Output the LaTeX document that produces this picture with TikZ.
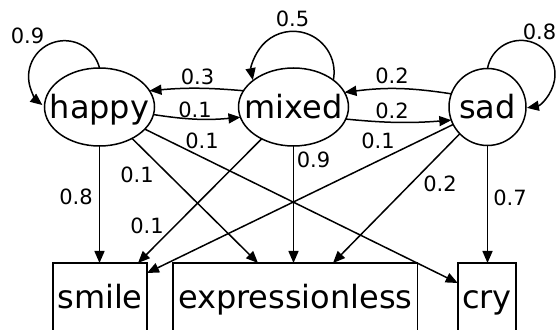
\documentclass[tikz,border=0pt]{standalone}
\usepackage{fontspec}
\setmainfont{DejaVu Sans}
\usetikzlibrary{arrows.meta,shapes.geometric}
\begin{document}
\begin{tikzpicture}[x=1pt,y=1pt,
  every node/.style={inner sep=0pt, outer sep=0pt},
  state/.style={draw, line width=1.5pt, ellipse, minimum width=110pt, minimum height=78pt,
    font=\fontsize{32}{38}\selectfont, text height=24pt, text depth=1.4pt},
  circstate/.style={draw, line width=1.5pt, circle, minimum size=77pt,
    font=\fontsize{32}{38}\selectfont, text height=24pt, text depth=1.4pt},
  obs/.style={draw, line width=1.5pt, rectangle, minimum height=80pt,
    font=\fontsize{32}{38}\selectfont, text height=10pt, text depth=0pt},
  lbl/.style={font=\fontsize{21}{25}\selectfont},
  arr/.style={line width=1.5pt, -{Triangle[length=12pt,width=10pt]}}]
\useasboundingbox (0,0) rectangle (556,329);
\clip (0,0) rectangle (556,329);
% states
\node[state] (happy) at (99.5,222) {\makebox[0pt]{happy}};
\node[state] (mixed) at (293.5,222) {\makebox[0pt]{mixed}};
\node[circstate] (sad) at (487.5,222) {\makebox[0pt]{sad}};
% observations
\node[obs, minimum width=94pt] (smile) at (100,26) {\makebox[0pt]{smile}};
\node[obs, minimum width=244.7pt] (expr) at (295.3,26) {\makebox[0pt]{expressionless}};
\node[obs, minimum width=58.3pt] (cry) at (486.9,26) {\makebox[0pt]{cry}};
% self loops
\draw[arr] (happy.north) arc[start angle=14, end angle=232, radius=36];
\draw[arr] (mixed.34) arc[start angle=-11, end angle=191, radius=41];
\draw[arr] (sad.north) arc[start angle=170, end angle=-80, radius=34];
% transitions
\draw[arr] (happy.-8) to[bend right=7] (mixed.191.6);
\draw[arr] (mixed.162.7) to[bend right=5] (happy.18);
\draw[arr] (mixed.-13.7) to[bend right=5] (sad.200);
\draw[arr] (sad.160) to[bend right=8] (mixed.16.6);
% emissions
\draw[arr] (happy.south) -- (happy.south |- smile.north);
\draw[arr] (happy.-44.6) -- ([xshift=-37.3pt]expr.north);
\draw[arr] (happy.-26.8) -- ([yshift=-20pt]cry.north west);
\draw[arr] (mixed.225.4) -- ([xshift=38pt]smile.north);
\draw[arr] (mixed.south) -- (mixed.south |- expr.north);
\draw[arr] (sad.207.5) -- ([yshift=-10pt]smile.north east);
\draw[arr] (sad.224.5) -- ([xshift=37.7pt]expr.north);
\draw[arr] (sad.south) -- (sad.south |- cry.north);
% labels
\node[lbl] (lhh) at (27.5,293) {0.9};
\node[lbl] (lmm) at (292.5,310) {0.5};
\node[lbl] (lss) at (539.5,297.5) {0.8};
\node[lbl] (lmh) at (197.5,252) {0.3};
\node[lbl] (lhm) at (195,219.5) {0.1};
\node[lbl] (lhc) at (202,188) {0.1};
\node[lbl] (lsm) at (392,253) {0.2};
\node[lbl] (lms) at (392,218) {0.2};
\node[lbl] (lssm) at (378,188) {0.1};
\node[lbl] (lme) at (313.5,169.5) {0.9};
\node[lbl] (lhe) at (137,154) {0.1};
\node[lbl] (lhs) at (76,132) {0.8};
\node[lbl] (lmsm) at (147,103) {0.1};
\node[lbl] (lse) at (440,145) {0.2};
\node[lbl] (lsc) at (510,131) {0.7};
\end{tikzpicture}
\end{document}
